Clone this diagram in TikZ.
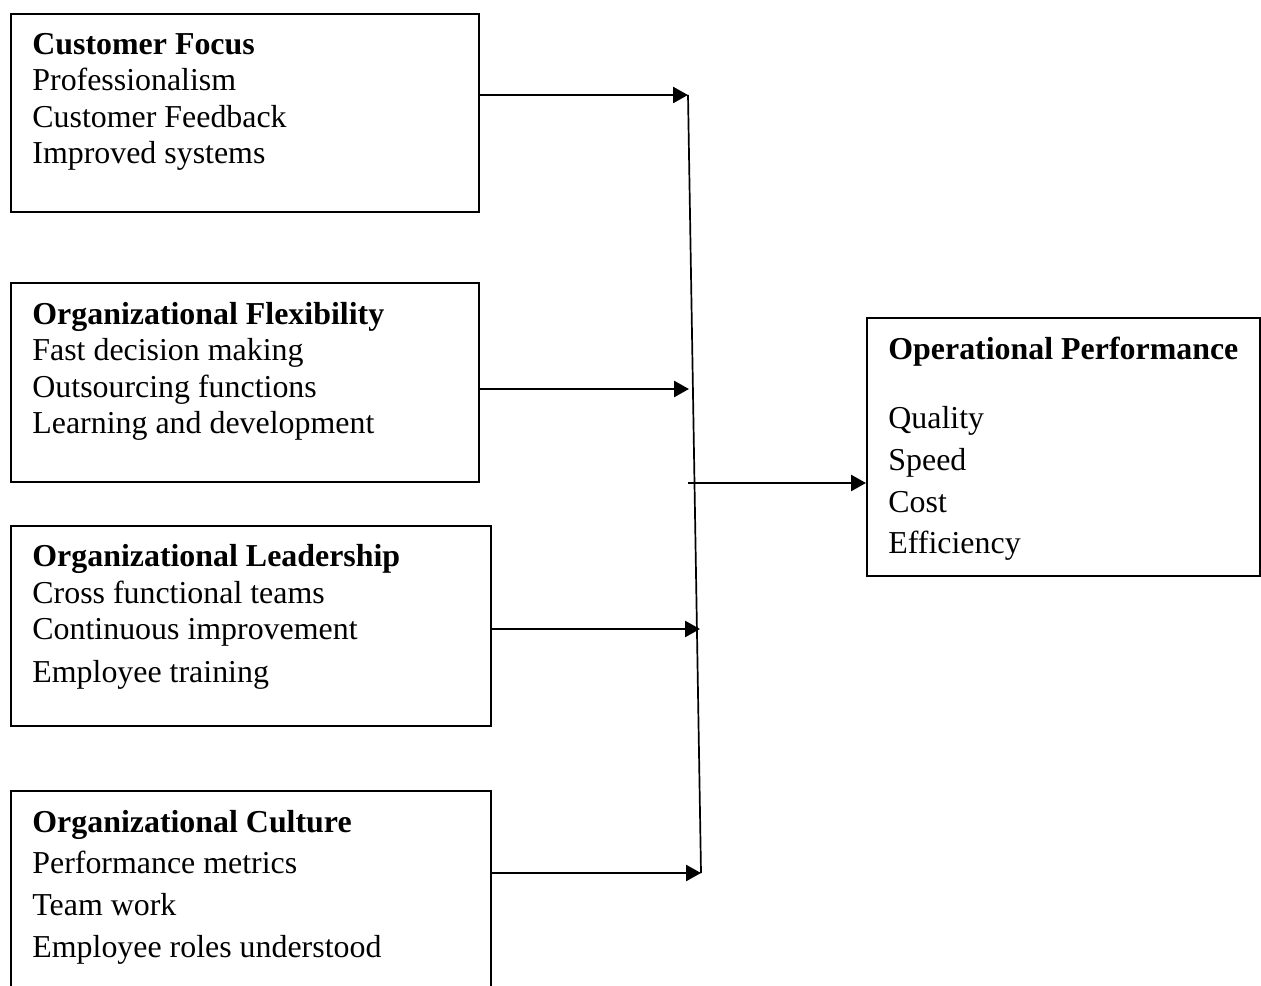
\documentclass[tikz,border=0pt]{standalone}
\usepackage{fontspec}
\setmainfont{Liberation Serif}
\usetikzlibrary{arrows.meta}
\begin{document}
\begin{tikzpicture}[x=0.5pt,y=-0.5pt,
  box/.style={draw,line width=1pt,rectangle,inner sep=0pt},
  txt/.style={anchor=base west,inner sep=0pt,font=\fontsize{15.95}{18}\selectfont},
  hd/.style={txt,font=\fontsize{15.95}{18}\selectfont\bfseries},
  arr/.style={line width=1.3pt,-{Triangle[length=7.5pt,width=8pt]}},
  trunk/.style={line width=0.85pt}]
\useasboundingbox (0,0) rectangle (1261,985);
\clip (0,0) rectangle (1261,985);
% boxes
\node[box,minimum width=234pt,minimum height=99pt] (b1) at (245,113) {};
\node[box,minimum width=234pt,minimum height=99.5pt] (b2) at (245,382.5) {};
\node[box,minimum width=240pt,minimum height=100pt] (b3) at (251,626) {};
\node[box,minimum width=240pt,minimum height=104.5pt] (b4) at (251,895.5) {};
\node[box,minimum width=196.5pt,minimum height=129pt] (op) at (1063.5,447) {};
% box 1 text
\node[hd] (b1h) at (32,54) {Customer Focus};
\node[txt] (b1a) at (32,90) {Professionalism};
\node[txt] (b1b) at (32,127) {Customer Feedback};
\node[txt] (b1c) at (32,163) {Improved systems};
% box 2 text
\node[hd] (b2h) at (32,324) {Organizational Flexibility};
\node[txt] (b2a) at (32,360) {Fast decision making};
\node[txt] (b2b) at (32,397) {Outsourcing functions};
\node[txt] (b2c) at (32,433) {Learning and development};
% box 3 text
\node[hd] (b3h) at (32,566) {Organizational Leadership};
\node[txt] (b3a) at (32,603) {Cross functional teams};
\node[txt] (b3b) at (32,639) {Continuous improvement};
\node[txt] (b3c) at (32,682) {Employee training};
% box 4 text
\node[hd] (b4h) at (32,832) {Organizational Culture};
\node[txt] (b4a) at (32,873) {Performance metrics};
\node[txt] (b4b) at (32,915) {Team work};
\node[txt] (b4c) at (32,957) {Employee roles understood};
% right box text
\node[hd] (oph) at (888,359) {Operational Performance};
\node[txt] (opa) at (888,428) {Quality};
\node[txt] (opb) at (888,470) {Speed};
\node[txt] (opc) at (888,512) {Cost};
\node[txt] (opd) at (888,553) {Efficiency};
% trunk points
\coordinate (t1) at (688,95);
\coordinate (t2) at (689,389);
\coordinate (t3) at (700,629);
\coordinate (t4) at (701,873);
\coordinate (tm) at (688,483);
% connectors
\draw[trunk] (t1) -- (t4);
\draw[arr] (b1.east |- t1) -- (t1);
\draw[arr] (b2.east |- t2) -- (t2);
\draw[arr] (b3.east |- t3) -- (t3);
\draw[arr] (b4.east |- t4) -- (t4);
\draw[arr] (tm) -- (op.west |- tm);
\end{tikzpicture}
\end{document}
